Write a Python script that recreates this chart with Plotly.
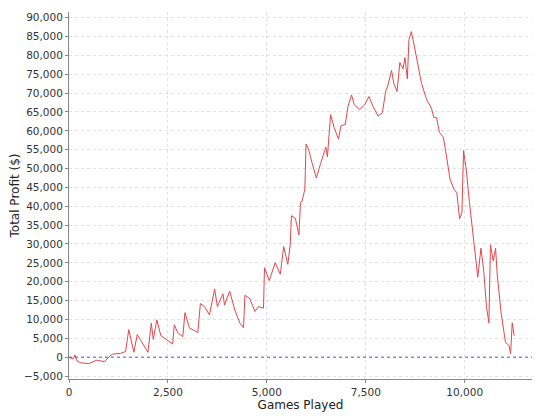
import plotly.graph_objects as go

games = [0, 100, 150, 200, 300, 500, 700, 900, 1000, 1100, 1300, 1430, 1510, 1640, 1725,
         1850, 1995, 2080, 2130, 2220, 2320, 2620, 2660, 2745, 2875, 2930, 3040, 3255,
         3320, 3425, 3550, 3680, 3750, 3890, 3930, 4060, 4190, 4320, 4410, 4445, 4570,
         4700, 4785, 4915, 4940, 5060, 5210, 5340, 5425, 5530, 5590, 5620, 5720, 5810,
         5850, 5890, 5960, 5990, 6060, 6145, 6250, 6360, 6490, 6530, 6610, 6700, 6810,
         6870, 6980, 7050, 7140, 7210, 7340, 7470, 7580, 7680, 7810, 7920, 8000, 8060,
         8150, 8210, 8290, 8360, 8440, 8490, 8550, 8590, 8650, 8710, 8800, 8910, 9040,
         9160, 9220, 9290, 9360, 9460, 9510, 9630, 9730, 9800, 9870, 9930, 9970, 10040,
         10120, 10230, 10330, 10410, 10480, 10550, 10610, 10650, 10720, 10780, 10820,
         10920, 11030, 11120, 11160, 11200, 11250]
profit = [0, -500, 600, -1000, -1500, -1700, -800, -1200, 0, 800, 1000, 1500, 7300, 1300,
          6000, 3900, 1300, 9000, 4700, 9900, 5700, 3500, 8600, 6500, 5400, 11800, 7800,
          6500, 14200, 13400, 11200, 18100, 13400, 16800, 13800, 17500, 12500, 9000, 7800,
          16400, 15500, 12100, 13400, 13000, 23700, 20300, 25000, 22000, 29300, 24600,
          29800, 37500, 36800, 32400, 41000, 41400, 44500, 56500, 54900, 51400, 47500,
          51400, 55700, 53100, 64300, 60900, 57800, 61300, 61700, 66500, 69500, 66900,
          65600, 66900, 69100, 66500, 63900, 64800, 70400, 72100, 76000, 72500, 70400,
          78100, 76400, 79400, 73800, 84200, 86300, 83300, 78100, 72500, 68200, 66000,
          63500, 63500, 59600, 58300, 55200, 47100, 44500, 43600, 36700, 38400, 54800,
          49600, 41000, 29800, 21200, 28900, 22900, 13400, 9100, 29800, 25500, 28900,
          22000, 11700, 3900, 3100, 900, 9100, 5700]

fig = go.Figure()
fig.add_trace(go.Scatter(x=games, y=profit, mode="lines",
                         line=dict(color="#e0474c", width=1)))
fig.add_hline(y=0, line=dict(color="#5a5ad0", width=1, dash="dot"))

axis_style = dict(showgrid=True, gridcolor="#e2e2e2", griddash="dot", gridwidth=1,
                  zeroline=False, showline=True, linecolor="#888888", linewidth=1,
                  ticks="outside", tickcolor="#888888", ticklen=3, automargin=False,
                  tickformat=",d", tickfont=dict(size=10.5, color="#333333"))
fig.update_xaxes(range=[0, 11700], dtick=2500, title=dict(text="Games Played",
                 font=dict(size=12, color="#222222"), standoff=2), **axis_style)
fig.update_yaxes(range=[-5790, 91500], dtick=5000, title=dict(text="Total Profit ($)",
                 font=dict(size=12, color="#222222"), standoff=2), **axis_style)
# page body adds an 8px offset, so margins are shifted to compensate
fig.update_layout(width=540, height=420, showlegend=False,
                  paper_bgcolor="white", plot_bgcolor="white",
                  font=dict(family="DejaVu Sans"),
                  margin=dict(l=61, r=16, t=4, b=49))
fig.write_html("out.html")
